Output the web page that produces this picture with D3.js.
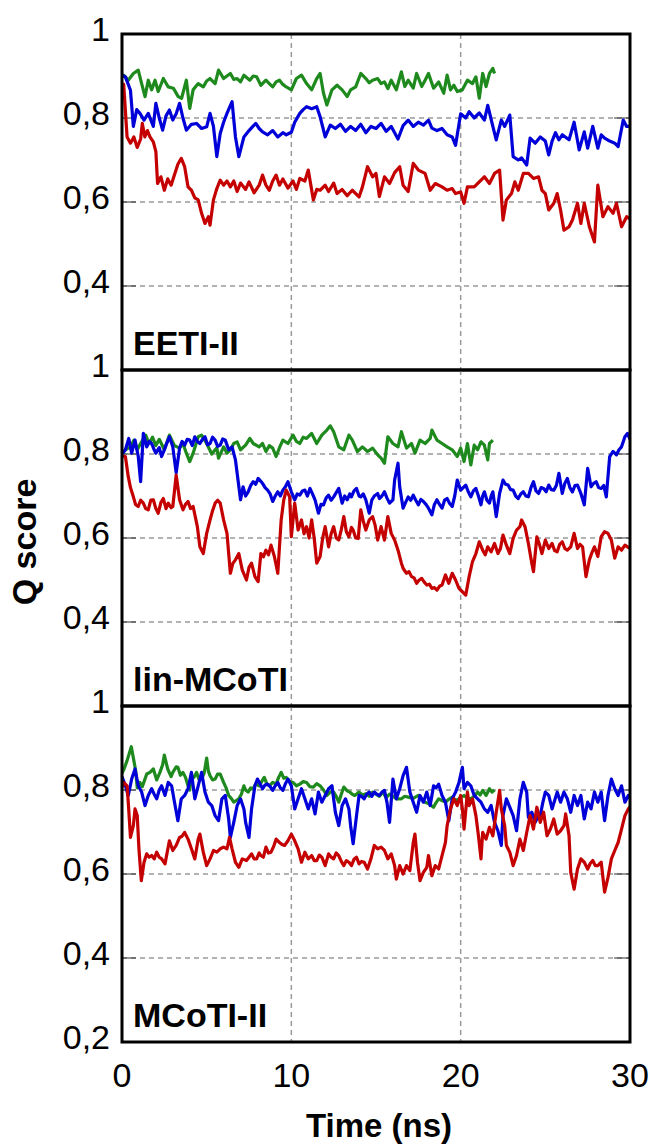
<!DOCTYPE html>
<html>
<head>
<meta charset="utf-8">
<script src="https://cdn.jsdelivr.net/npm/d3@7"></script>
<style>
  html, body { margin: 0; padding: 0; background: #fff; }
  svg { display: block; }
  text { font-family: "Liberation Sans", Arial, sans-serif; fill: #000; }
</style>
</head>
<body>
<svg id="chart" width="650" height="1146"></svg>
<script>
// ---------------- DATA ----------------
const panelNames = ["EETI-II", "lin-MCoTI", "MCoTI-II"];
const xTicks = [0, 10, 20, 30];
const yTicksPanel = [1, 0.8, 0.6, 0.4];
const yTickBottom = [0.2];
const yGrid = [0.4, 0.6, 0.8];
const xGrid = [10, 20];
const tickLabel = v => (v === 1 ? "1" : String(v).replace(".", ","));
const seriesColors = { green: "#1e8a1e", blue: "#0000d8", red: "#c40000" };

// Panel 1: EETI-II  [time (ns), Q score]
const eetiGreen = [[0,0.898],[0.1,0.902],[0.37,0.890],[0.67,0.906],[0.96,0.914],[1.16,0.882],[1.36,0.851],[1.55,0.890],[1.75,0.867],[1.95,0.890],[2.14,0.863],[2.44,0.894],[2.73,0.874],[3.03,0.871],[3.32,0.851],[3.52,0.847],[3.8,0.890],[4.0,0.823],[4.2,0.867],[4.5,0.882],[4.8,0.874],[5.0,0.888],[5.2,0.894],[5.5,0.882],[5.7,0.914],[6.0,0.894],[6.2,0.900],[6.4,0.906],[6.6,0.892],[6.8,0.894],[7.0,0.886],[7.2,0.902],[7.55,0.890],[7.75,0.900],[7.95,0.898],[8.2,0.878],[8.5,0.890],[8.7,0.882],[8.9,0.874],[9.1,0.886],[9.3,0.890],[9.5,0.880],[9.7,0.874],[10.0,0.867],[10.3,0.894],[10.6,0.902],[10.9,0.882],[11.2,0.867],[11.5,0.894],[11.7,0.906],[11.9,0.859],[12.1,0.831],[12.4,0.867],[12.7,0.878],[13.0,0.867],[13.3,0.851],[13.5,0.867],[13.8,0.874],[14.1,0.906],[14.4,0.894],[14.6,0.884],[14.8,0.890],[15.1,0.894],[15.3,0.882],[15.5,0.886],[15.7,0.870],[15.9,0.890],[16.2,0.867],[16.5,0.910],[16.7,0.875],[16.9,0.890],[17.2,0.871],[17.4,0.906],[17.7,0.875],[17.9,0.890],[18.1,0.906],[18.4,0.871],[18.7,0.886],[19.0,0.859],[19.2,0.902],[19.4,0.867],[19.6,0.878],[19.8,0.863],[20.1,0.867],[20.4,0.890],[20.7,0.882],[20.9,0.898],[21.1,0.847],[21.3,0.906],[21.5,0.875],[21.7,0.906],[21.9,0.918],[22.0,0.906]];
const eetiBlue = [[0,0.902],[0.2,0.898],[0.5,0.866],[0.67,0.780],[0.87,0.820],[1.06,0.811],[1.3,0.795],[1.55,0.811],[1.85,0.780],[2.0,0.835],[2.2,0.800],[2.4,0.771],[2.6,0.805],[2.8,0.819],[3.0,0.795],[3.2,0.810],[3.4,0.835],[3.6,0.800],[3.8,0.771],[4.1,0.785],[4.4,0.787],[4.7,0.775],[5.0,0.779],[5.2,0.811],[5.4,0.780],[5.6,0.708],[5.8,0.763],[6.0,0.790],[6.2,0.811],[6.5,0.839],[6.7,0.755],[6.9,0.708],[7.2,0.755],[7.5,0.770],[7.7,0.779],[7.9,0.787],[8.1,0.775],[8.3,0.767],[8.6,0.760],[8.9,0.770],[9.2,0.755],[9.5,0.765],[9.7,0.760],[10.0,0.766],[10.2,0.790],[10.5,0.811],[10.7,0.820],[10.9,0.827],[11.2,0.822],[11.5,0.827],[11.7,0.803],[12.0,0.755],[12.3,0.783],[12.6,0.775],[12.9,0.785],[13.2,0.768],[13.5,0.780],[13.8,0.770],[14.1,0.785],[14.4,0.765],[14.7,0.780],[15.0,0.775],[15.3,0.787],[15.6,0.768],[15.9,0.780],[16.1,0.765],[16.3,0.750],[16.6,0.782],[16.9,0.795],[17.2,0.780],[17.5,0.790],[17.8,0.783],[18.1,0.795],[18.3,0.776],[18.6,0.770],[18.9,0.775],[19.2,0.760],[19.5,0.755],[19.7,0.735],[20.0,0.810],[20.3,0.800],[20.5,0.815],[20.8,0.800],[21.1,0.812],[21.4,0.795],[21.6,0.830],[21.9,0.780],[22.1,0.748],[22.4,0.795],[22.6,0.780],[22.9,0.807],[23.1,0.708],[23.4,0.700],[23.6,0.705],[23.9,0.688],[24.1,0.752],[24.4,0.740],[24.7,0.755],[25.0,0.745],[25.2,0.712],[25.4,0.745],[25.6,0.765],[25.8,0.748],[26.0,0.760],[26.4,0.748],[26.7,0.790],[27.0,0.724],[27.3,0.767],[27.5,0.728],[27.8,0.780],[28.1,0.728],[28.3,0.760],[28.5,0.752],[28.8,0.745],[29.1,0.740],[29.3,0.732],[29.6,0.795],[29.8,0.780],[30,0.780]];
const eetiRed = [[0,0.867],[0.1,0.880],[0.3,0.755],[0.5,0.740],[0.7,0.755],[0.9,0.730],[1.1,0.750],[1.2,0.787],[1.35,0.755],[1.5,0.770],[1.65,0.755],[1.85,0.743],[2.0,0.720],[2.1,0.644],[2.3,0.660],[2.5,0.628],[2.7,0.655],[2.9,0.640],[3.1,0.665],[3.3,0.690],[3.5,0.704],[3.7,0.684],[3.9,0.636],[4.1,0.628],[4.3,0.610],[4.5,0.605],[4.7,0.573],[4.9,0.549],[5.1,0.565],[5.2,0.545],[5.4,0.605],[5.6,0.632],[5.8,0.652],[6.0,0.640],[6.2,0.650],[6.4,0.636],[6.6,0.650],[6.8,0.625],[7.0,0.645],[7.3,0.630],[7.5,0.648],[7.8,0.622],[8.1,0.640],[8.3,0.664],[8.5,0.640],[8.7,0.628],[8.9,0.650],[9.1,0.664],[9.3,0.640],[9.5,0.655],[9.8,0.633],[10.1,0.650],[10.3,0.630],[10.5,0.656],[10.8,0.650],[11.0,0.676],[11.3,0.605],[11.5,0.630],[11.7,0.628],[12.0,0.640],[12.2,0.625],[12.5,0.645],[12.7,0.620],[13.0,0.630],[13.3,0.615],[13.6,0.628],[14.0,0.612],[14.2,0.636],[14.5,0.684],[14.8,0.660],[15.0,0.668],[15.2,0.613],[15.5,0.660],[15.8,0.644],[16.1,0.670],[16.4,0.684],[16.6,0.640],[16.9,0.625],[17.2,0.692],[17.5,0.676],[17.9,0.668],[18.2,0.628],[18.5,0.644],[18.9,0.636],[19.2,0.628],[19.5,0.632],[19.7,0.620],[20.0,0.624],[20.2,0.597],[20.4,0.636],[20.8,0.636],[21.1,0.648],[21.4,0.660],[21.7,0.644],[22.0,0.668],[22.3,0.676],[22.5,0.557],[22.7,0.605],[23.0,0.620],[23.2,0.648],[23.4,0.628],[23.7,0.668],[24.0,0.668],[24.3,0.656],[24.6,0.660],[24.8,0.628],[25.0,0.620],[25.2,0.581],[25.5,0.597],[25.7,0.620],[25.9,0.581],[26.1,0.533],[26.4,0.541],[26.6,0.557],[26.9,0.597],[27.1,0.549],[27.3,0.597],[27.6,0.541],[27.9,0.505],[28.1,0.640],[28.4,0.565],[28.7,0.589],[29.0,0.573],[29.2,0.597],[29.5,0.541],[29.8,0.565],[30,0.560]];

// Panel 2: lin-MCoTI
const linGreen = [[0,0.800],[0.2,0.810],[0.5,0.817],[0.7,0.833],[0.9,0.810],[1.1,0.825],[1.4,0.845],[1.6,0.825],[1.8,0.840],[2.0,0.820],[2.2,0.835],[2.5,0.810],[2.8,0.845],[3.1,0.820],[3.4,0.814],[3.6,0.825],[3.8,0.802],[4.0,0.782],[4.2,0.802],[4.5,0.841],[4.7,0.845],[5.0,0.825],[5.3,0.800],[5.6,0.815],[5.7,0.790],[6.0,0.817],[6.2,0.802],[6.4,0.810],[6.6,0.825],[6.8,0.829],[7.0,0.810],[7.3,0.821],[7.55,0.837],[7.75,0.825],[8.1,0.817],[8.3,0.825],[8.5,0.806],[8.7,0.820],[8.9,0.814],[9.1,0.794],[9.3,0.815],[9.5,0.833],[9.8,0.825],[10.1,0.845],[10.3,0.830],[10.5,0.825],[10.7,0.840],[10.9,0.837],[11.2,0.849],[11.5,0.825],[11.8,0.845],[12.1,0.857],[12.3,0.867],[12.5,0.853],[12.8,0.817],[13.1,0.810],[13.4,0.845],[13.6,0.833],[13.9,0.806],[14.2,0.817],[14.5,0.806],[14.8,0.814],[15.1,0.798],[15.3,0.790],[15.5,0.778],[15.7,0.841],[16.0,0.825],[16.3,0.817],[16.5,0.853],[16.8,0.814],[17.1,0.825],[17.3,0.802],[17.6,0.833],[17.9,0.825],[18.2,0.837],[18.3,0.857],[18.6,0.833],[18.9,0.825],[19.2,0.817],[19.5,0.810],[19.8,0.794],[20.0,0.814],[20.2,0.782],[20.4,0.825],[20.6,0.774],[20.8,0.821],[21.0,0.810],[21.2,0.829],[21.4,0.821],[21.6,0.786],[21.7,0.825],[21.9,0.833]];
const linBlue = [[0,0.800],[0.2,0.810],[0.4,0.837],[0.57,0.802],[0.77,0.833],[0.96,0.794],[1.1,0.734],[1.26,0.849],[1.46,0.817],[1.6,0.830],[1.75,0.825],[1.9,0.810],[2.0,0.802],[2.2,0.815],[2.34,0.794],[2.5,0.810],[2.6,0.821],[2.8,0.841],[3.0,0.817],[3.2,0.755],[3.4,0.814],[3.55,0.830],[3.7,0.821],[3.85,0.835],[4.0,0.833],[4.15,0.820],[4.3,0.841],[4.45,0.830],[4.6,0.825],[4.75,0.835],[4.9,0.841],[5.05,0.822],[5.2,0.825],[5.35,0.840],[5.5,0.833],[5.65,0.818],[5.8,0.821],[5.95,0.836],[6.1,0.833],[6.3,0.810],[6.5,0.817],[6.7,0.786],[6.8,0.754],[7.0,0.691],[7.15,0.722],[7.3,0.700],[7.45,0.710],[7.6,0.725],[7.75,0.734],[7.9,0.728],[8.04,0.742],[8.2,0.735],[8.3,0.730],[8.45,0.720],[8.6,0.714],[8.75,0.705],[8.9,0.687],[9.05,0.700],[9.2,0.710],[9.35,0.700],[9.5,0.714],[9.65,0.722],[9.8,0.734],[10.0,0.710],[10.2,0.691],[10.35,0.705],[10.5,0.702],[10.65,0.712],[10.8,0.714],[10.95,0.700],[11.1,0.718],[11.25,0.705],[11.4,0.691],[11.6,0.659],[11.75,0.680],[11.9,0.679],[12.05,0.695],[12.2,0.702],[12.35,0.690],[12.5,0.698],[12.65,0.708],[12.8,0.718],[13.0,0.683],[13.15,0.700],[13.3,0.691],[13.45,0.705],[13.55,0.698],[13.7,0.712],[13.85,0.718],[14.0,0.700],[14.1,0.698],[14.25,0.705],[14.4,0.691],[14.6,0.659],[14.75,0.690],[14.9,0.700],[15.1,0.706],[15.2,0.694],[15.35,0.700],[15.5,0.710],[15.65,0.695],[15.8,0.683],[16.0,0.691],[16.1,0.738],[16.3,0.778],[16.4,0.722],[16.6,0.671],[16.75,0.685],[16.9,0.698],[17.05,0.690],[17.2,0.702],[17.35,0.690],[17.5,0.679],[17.65,0.692],[17.8,0.687],[17.95,0.680],[18.1,0.671],[18.3,0.655],[18.45,0.680],[18.6,0.691],[18.75,0.680],[18.9,0.671],[19.05,0.690],[19.2,0.694],[19.35,0.682],[19.5,0.675],[19.65,0.700],[19.8,0.738],[20.0,0.714],[20.15,0.720],[20.3,0.726],[20.45,0.710],[20.6,0.698],[20.75,0.712],[20.9,0.718],[21.05,0.700],[21.2,0.679],[21.3,0.700],[21.4,0.710],[21.55,0.690],[21.7,0.683],[21.8,0.700],[21.9,0.710],[22.1,0.651],[22.3,0.706],[22.5,0.738],[22.65,0.728],[22.8,0.726],[22.95,0.715],[23.1,0.714],[23.25,0.700],[23.4,0.694],[23.55,0.705],[23.7,0.710],[23.85,0.700],[24.0,0.698],[24.15,0.720],[24.3,0.734],[24.45,0.712],[24.6,0.706],[24.75,0.720],[24.9,0.718],[25.05,0.710],[25.2,0.726],[25.35,0.715],[25.5,0.714],[25.65,0.725],[25.8,0.754],[26.0,0.706],[26.15,0.730],[26.3,0.742],[26.45,0.720],[26.6,0.710],[26.75,0.725],[26.9,0.726],[27.1,0.706],[27.3,0.679],[27.5,0.766],[27.7,0.722],[27.85,0.730],[28.0,0.734],[28.15,0.720],[28.3,0.718],[28.45,0.725],[28.6,0.698],[28.8,0.794],[29.0,0.806],[29.2,0.798],[29.35,0.810],[29.5,0.817],[29.7,0.841],[29.85,0.849],[30,0.835]];
const linRed = [[0,0.795],[0.2,0.794],[0.37,0.746],[0.5,0.720],[0.67,0.698],[0.8,0.680],[0.96,0.675],[1.1,0.690],[1.26,0.683],[1.4,0.670],[1.55,0.667],[1.7,0.690],[1.85,0.691],[2.0,0.670],[2.14,0.659],[2.3,0.685],[2.44,0.694],[2.6,0.670],[2.73,0.683],[2.9,0.672],[3.0,0.675],[3.2,0.750],[3.4,0.691],[3.6,0.667],[3.75,0.680],[3.9,0.687],[4.05,0.670],[4.2,0.675],[4.45,0.627],[4.6,0.579],[4.8,0.563],[5.0,0.611],[5.2,0.643],[5.35,0.665],[5.5,0.683],[5.65,0.690],[5.8,0.683],[6.0,0.643],[6.2,0.611],[6.4,0.516],[6.55,0.540],[6.7,0.548],[6.9,0.563],[7.1,0.524],[7.35,0.500],[7.5,0.530],[7.65,0.540],[7.85,0.508],[8.04,0.496],[8.2,0.563],[8.35,0.555],[8.5,0.571],[8.65,0.560],[8.8,0.583],[9.0,0.556],[9.2,0.516],[9.4,0.643],[9.55,0.690],[9.7,0.714],[9.9,0.698],[10.0,0.603],[10.2,0.683],[10.4,0.619],[10.6,0.643],[10.75,0.610],[10.9,0.627],[11.05,0.600],[11.2,0.643],[11.35,0.600],[11.5,0.540],[11.7,0.556],[11.85,0.600],[12.0,0.627],[12.2,0.579],[12.35,0.610],[12.5,0.627],[12.65,0.600],[12.8,0.595],[12.95,0.620],[13.1,0.651],[13.25,0.615],[13.4,0.603],[13.55,0.625],[13.65,0.619],[13.8,0.600],[13.95,0.599],[14.1,0.667],[14.25,0.640],[14.4,0.619],[14.6,0.643],[14.8,0.651],[14.95,0.630],[15.1,0.595],[15.3,0.627],[15.5,0.595],[15.7,0.651],[15.9,0.611],[16.1,0.595],[16.3,0.571],[16.5,0.540],[16.6,0.528],[16.8,0.516],[16.95,0.520],[17.1,0.508],[17.25,0.505],[17.4,0.492],[17.55,0.500],[17.7,0.504],[17.85,0.495],[18.0,0.488],[18.15,0.490],[18.3,0.480],[18.45,0.482],[18.6,0.476],[18.75,0.485],[18.9,0.488],[19.1,0.512],[19.3,0.492],[19.5,0.516],[19.7,0.500],[19.9,0.480],[20.1,0.472],[20.3,0.464],[20.5,0.508],[20.7,0.544],[20.9,0.563],[21.1,0.591],[21.3,0.571],[21.45,0.560],[21.6,0.579],[21.8,0.567],[22.0,0.587],[22.2,0.563],[22.35,0.575],[22.5,0.607],[22.7,0.583],[22.9,0.563],[23.1,0.599],[23.3,0.619],[23.5,0.627],[23.6,0.643],[23.8,0.627],[24.0,0.587],[24.2,0.540],[24.3,0.520],[24.5,0.603],[24.65,0.585],[24.8,0.563],[25.0,0.595],[25.2,0.575],[25.4,0.587],[25.55,0.570],[25.7,0.567],[25.85,0.585],[26.0,0.591],[26.15,0.575],[26.3,0.571],[26.5,0.579],[26.7,0.611],[26.9,0.575],[27.05,0.585],[27.2,0.579],[27.4,0.508],[27.6,0.548],[27.75,0.565],[27.9,0.579],[28.1,0.556],[28.3,0.603],[28.5,0.615],[28.7,0.611],[28.9,0.595],[29.1,0.552],[29.3,0.579],[29.5,0.571],[29.7,0.583],[29.85,0.579],[30,0.575]];

// Panel 3: MCoTI-II
const mcotiGreen = [[0,0.840],[0.1,0.848],[0.3,0.870],[0.55,0.903],[0.7,0.870],[0.8,0.848],[0.9,0.805],[1.05,0.818],[1.2,0.808],[1.46,0.838],[1.65,0.842],[1.85,0.850],[2.05,0.824],[2.24,0.842],[2.4,0.860],[2.5,0.883],[2.7,0.850],[2.9,0.832],[3.0,0.842],[3.2,0.855],[3.3,0.854],[3.45,0.835],[3.6,0.842],[3.75,0.830],[3.9,0.810],[4.0,0.800],[4.1,0.834],[4.25,0.830],[4.4,0.842],[4.55,0.825],[4.7,0.826],[4.85,0.840],[5.0,0.876],[5.1,0.845],[5.2,0.834],[5.35,0.824],[5.5,0.826],[5.65,0.838],[5.8,0.838],[6.0,0.818],[6.15,0.805],[6.3,0.787],[6.45,0.780],[6.6,0.771],[6.75,0.775],[6.9,0.779],[7.05,0.790],[7.2,0.810],[7.3,0.800],[7.45,0.795],[7.6,0.805],[7.75,0.803],[7.9,0.815],[8.1,0.810],[8.25,0.820],[8.4,0.830],[8.55,0.815],[8.7,0.810],[8.9,0.818],[9.1,0.814],[9.25,0.830],[9.4,0.842],[9.55,0.828],[9.7,0.830],[9.9,0.820],[10.1,0.818],[10.3,0.810],[10.5,0.814],[10.7,0.820],[10.9,0.818],[11.1,0.808],[11.3,0.807],[11.5,0.815],[11.7,0.810],[11.9,0.800],[12.1,0.787],[12.3,0.795],[12.5,0.795],[12.65,0.785],[12.8,0.771],[12.95,0.790],[13.1,0.807],[13.3,0.798],[13.45,0.795],[13.6,0.790],[13.75,0.787],[13.9,0.792],[14.0,0.795],[14.2,0.788],[14.4,0.791],[14.6,0.785],[14.8,0.795],[15.0,0.790],[15.2,0.785],[15.4,0.795],[15.6,0.782],[15.8,0.790],[16.0,0.785],[16.2,0.779],[16.5,0.779],[16.7,0.785],[16.9,0.783],[17.2,0.780],[17.5,0.787],[17.7,0.778],[17.9,0.771],[18.1,0.768],[18.4,0.759],[18.55,0.770],[18.7,0.779],[18.9,0.775],[19.1,0.771],[19.3,0.778],[19.5,0.783],[19.7,0.775],[19.9,0.779],[20.2,0.787],[20.4,0.780],[20.6,0.779],[20.8,0.785],[21.0,0.795],[21.15,0.788],[21.3,0.799],[21.5,0.787],[21.7,0.803],[21.85,0.795],[22.0,0.800]];
const mcotiBlue = [[0,0.832],[0.2,0.810],[0.37,0.787],[0.57,0.826],[0.77,0.850],[0.96,0.810],[1.16,0.795],[1.36,0.763],[1.55,0.787],[1.75,0.803],[1.9,0.790],[2.05,0.779],[2.2,0.800],[2.34,0.810],[2.54,0.787],[2.73,0.818],[2.93,0.810],[3.1,0.771],[3.3,0.727],[3.5,0.779],[3.7,0.787],[3.9,0.803],[4.1,0.842],[4.3,0.779],[4.5,0.810],[4.7,0.842],[4.9,0.795],[5.1,0.771],[5.3,0.763],[5.5,0.739],[5.7,0.727],[5.9,0.779],[6.1,0.787],[6.3,0.731],[6.4,0.687],[6.6,0.723],[6.8,0.763],[7.0,0.779],[7.2,0.755],[7.3,0.723],[7.5,0.687],[7.65,0.755],[7.85,0.810],[8.0,0.826],[8.15,0.815],[8.3,0.803],[8.45,0.812],[8.6,0.814],[8.75,0.808],[8.9,0.799],[9.05,0.810],[9.2,0.818],[9.35,0.805],[9.5,0.799],[9.65,0.815],[9.8,0.826],[10.0,0.810],[10.2,0.755],[10.4,0.779],[10.6,0.803],[10.8,0.779],[11.0,0.755],[11.2,0.779],[11.4,0.743],[11.6,0.795],[11.8,0.771],[12.0,0.787],[12.2,0.803],[12.4,0.810],[12.6,0.747],[12.8,0.715],[13.0,0.763],[13.2,0.779],[13.4,0.755],[13.5,0.715],[13.65,0.672],[13.85,0.739],[14.0,0.787],[14.15,0.785],[14.3,0.779],[14.45,0.790],[14.6,0.795],[14.75,0.785],[14.9,0.795],[15.05,0.790],[15.2,0.787],[15.35,0.795],[15.5,0.799],[15.65,0.770],[15.8,0.723],[16.0,0.826],[16.2,0.779],[16.4,0.803],[16.6,0.834],[16.8,0.854],[17.0,0.795],[17.2,0.771],[17.4,0.747],[17.6,0.787],[17.8,0.771],[18.0,0.795],[18.2,0.763],[18.4,0.810],[18.55,0.805],[18.7,0.814],[18.9,0.787],[19.1,0.771],[19.3,0.727],[19.5,0.779],[19.7,0.795],[19.9,0.818],[20.1,0.854],[20.2,0.803],[20.4,0.818],[20.6,0.810],[20.8,0.787],[21.0,0.779],[21.2,0.771],[21.4,0.755],[21.6,0.747],[21.8,0.763],[22.0,0.723],[22.2,0.703],[22.4,0.668],[22.5,0.739],[22.7,0.779],[22.9,0.759],[23.1,0.739],[23.3,0.703],[23.5,0.779],[23.7,0.818],[23.9,0.795],[24.0,0.735],[24.2,0.747],[24.4,0.723],[24.55,0.735],[24.7,0.739],[24.85,0.770],[25.0,0.795],[25.2,0.787],[25.4,0.755],[25.55,0.775],[25.7,0.795],[25.9,0.771],[26.1,0.795],[26.3,0.779],[26.5,0.747],[26.7,0.787],[26.9,0.763],[27.1,0.787],[27.3,0.731],[27.5,0.771],[27.7,0.755],[27.9,0.795],[28.1,0.771],[28.3,0.795],[28.5,0.727],[28.7,0.787],[28.9,0.826],[29.1,0.803],[29.3,0.787],[29.5,0.810],[29.7,0.771],[29.9,0.787],[30,0.780]];
const mcotiRed = [[0,0.805],[0.1,0.818],[0.3,0.810],[0.37,0.771],[0.5,0.687],[0.67,0.715],[0.77,0.755],[0.9,0.739],[1.0,0.660],[1.14,0.584],[1.3,0.628],[1.46,0.648],[1.6,0.640],[1.75,0.644],[1.9,0.636],[2.05,0.652],[2.2,0.640],[2.34,0.636],[2.54,0.624],[2.8,0.679],[3.0,0.656],[3.2,0.668],[3.4,0.687],[3.55,0.690],[3.7,0.699],[3.9,0.683],[4.1,0.660],[4.3,0.636],[4.5,0.683],[4.6,0.695],[4.8,0.652],[5.0,0.620],[5.2,0.636],[5.4,0.656],[5.6,0.652],[5.8,0.660],[6.0,0.664],[6.2,0.660],[6.35,0.687],[6.5,0.660],[6.7,0.628],[6.9,0.616],[7.1,0.636],[7.35,0.632],[7.5,0.640],[7.65,0.648],[7.8,0.636],[7.95,0.636],[8.1,0.650],[8.2,0.644],[8.35,0.640],[8.5,0.664],[8.65,0.650],[8.8,0.652],[8.95,0.665],[9.1,0.683],[9.3,0.675],[9.45,0.670],[9.6,0.668],[9.8,0.679],[10.0,0.695],[10.2,0.679],[10.4,0.660],[10.6,0.628],[10.8,0.652],[11.0,0.636],[11.2,0.644],[11.35,0.632],[11.5,0.632],[11.65,0.645],[11.8,0.640],[12.0,0.620],[12.2,0.648],[12.35,0.640],[12.5,0.636],[12.65,0.650],[12.8,0.644],[12.95,0.630],[13.1,0.620],[13.25,0.632],[13.4,0.628],[13.55,0.620],[13.7,0.635],[13.85,0.640],[14.0,0.624],[14.15,0.630],[14.3,0.628],[14.5,0.612],[14.7,0.636],[14.9,0.668],[15.1,0.660],[15.3,0.664],[15.5,0.656],[15.7,0.636],[15.9,0.648],[16.1,0.620],[16.2,0.588],[16.4,0.620],[16.6,0.600],[16.8,0.620],[17.0,0.608],[17.2,0.675],[17.3,0.695],[17.45,0.628],[17.6,0.584],[17.8,0.604],[18.0,0.616],[18.1,0.644],[18.3,0.596],[18.5,0.620],[18.7,0.612],[18.9,0.644],[19.1,0.675],[19.2,0.715],[19.4,0.755],[19.6,0.779],[19.8,0.763],[20.0,0.787],[20.1,0.755],[20.2,0.707],[20.4,0.795],[20.5,0.763],[20.7,0.779],[20.9,0.739],[21.05,0.691],[21.2,0.636],[21.3,0.699],[21.5,0.683],[21.7,0.711],[21.9,0.691],[22.1,0.747],[22.3,0.799],[22.4,0.755],[22.6,0.715],[22.7,0.668],[22.9,0.652],[23.1,0.620],[23.3,0.644],[23.5,0.683],[23.7,0.656],[23.9,0.699],[24.1,0.739],[24.3,0.707],[24.5,0.759],[24.7,0.723],[24.9,0.747],[25.1,0.691],[25.3,0.707],[25.5,0.731],[25.7,0.695],[25.9,0.703],[26.1,0.715],[26.2,0.743],[26.4,0.691],[26.5,0.604],[26.7,0.564],[26.9,0.612],[27.1,0.636],[27.3,0.628],[27.5,0.612],[27.65,0.625],[27.8,0.632],[27.95,0.620],[28.1,0.620],[28.3,0.628],[28.5,0.557],[28.7,0.592],[28.9,0.636],[29.1,0.656],[29.3,0.675],[29.5,0.707],[29.7,0.739],[29.9,0.755],[30,0.760]];

const panelSeries = [
  { green: eetiGreen, blue: eetiBlue, red: eetiRed },
  { green: linGreen, blue: linBlue, red: linRed },
  { green: mcotiGreen, blue: mcotiBlue, red: mcotiRed }
];

// ---------------- LAYOUT ----------------
const left = 122, right = 630;
const panelTop = 34, panelH = 336;
const fontMain = 34;

const svg = d3.select("#chart");
const x = d3.scaleLinear().domain([0, 30]).range([left, right]);

panelNames.forEach((name, i) => {
  const top = panelTop + i * panelH;
  const bottom = top + panelH;
  const y = d3.scaleLinear().domain([0.2, 1]).range([bottom, top]);
  const g = svg.append("g");

  const clipId = "clip" + i;
  svg.append("clipPath").attr("id", clipId)
    .append("rect").attr("x", left).attr("y", top).attr("width", right - left).attr("height", panelH);

  // grid lines
  g.selectAll(".hg").data(yGrid).join("line")
    .attr("x1", left).attr("x2", right)
    .attr("y1", d => y(d)).attr("y2", d => y(d))
    .attr("stroke", "#9a9a9a").attr("stroke-width", 1.5).attr("stroke-dasharray", "5,4");
  g.selectAll(".vg").data(xGrid).join("line")
    .attr("x1", d => x(d)).attr("x2", d => x(d))
    .attr("y1", top).attr("y2", bottom)
    .attr("stroke", "#9a9a9a").attr("stroke-width", 1.5).attr("stroke-dasharray", "5,4");

  // inner tick marks
  g.selectAll(".tl").data(yGrid).join("line")
    .attr("x1", left).attr("x2", left + 14)
    .attr("y1", d => y(d)).attr("y2", d => y(d))
    .attr("stroke", "#333").attr("stroke-width", 1);
  g.selectAll(".tr").data(yGrid).join("line")
    .attr("x1", right - 16).attr("x2", right)
    .attr("y1", d => y(d)).attr("y2", d => y(d))
    .attr("stroke", "#333").attr("stroke-width", 1);

  // data lines
  const line = d3.line().x(d => x(d[0])).y(d => y(d[1]));
  const lines = g.append("g").attr("clip-path", `url(#${clipId})`);
  ["green", "blue", "red"].forEach(k => {
    lines.append("path")
      .datum(panelSeries[i][k])
      .attr("d", line)
      .attr("fill", "none")
      .attr("stroke", seriesColors[k])
      .attr("stroke-width", 3.2)
      .attr("stroke-linejoin", "round");
  });

  // frame
  g.append("rect")
    .attr("x", left).attr("y", top).attr("width", right - left).attr("height", panelH)
    .attr("fill", "none").attr("stroke", "#000").attr("stroke-width", 3);

  // y tick labels
  const labels = i === panelNames.length - 1 ? yTicksPanel.concat(yTickBottom) : yTicksPanel;
  g.selectAll(".yl").data(labels).join("text")
    .attr("x", 110).attr("y", d => y(d) - 5)
    .attr("text-anchor", "end").attr("dominant-baseline", "central")
    .attr("font-size", fontMain)
    .text(tickLabel);

  // panel label
  g.append("text")
    .attr("x", 133).attr("y", bottom - 15)
    .attr("font-size", 34).attr("font-weight", "bold")
    .text(name);
});

// x tick labels
svg.selectAll(".xl").data(xTicks).join("text")
  .attr("x", d => x(d)).attr("y", 1075)
  .attr("text-anchor", "middle").attr("dominant-baseline", "central")
  .attr("font-size", fontMain)
  .text(d => d);

// axis titles
svg.append("text")
  .attr("x", (left + right) / 2 + 3).attr("y", 1137)
  .attr("text-anchor", "middle")
  .attr("font-size", 33).attr("font-weight", "bold")
  .text("Time (ns)");

svg.append("text")
  .attr("transform", "translate(36,542) rotate(-90)")
  .attr("text-anchor", "middle")
  .attr("font-size", fontMain).attr("font-weight", "bold")
  .text("Q score");
</script>
</body>
</html>
